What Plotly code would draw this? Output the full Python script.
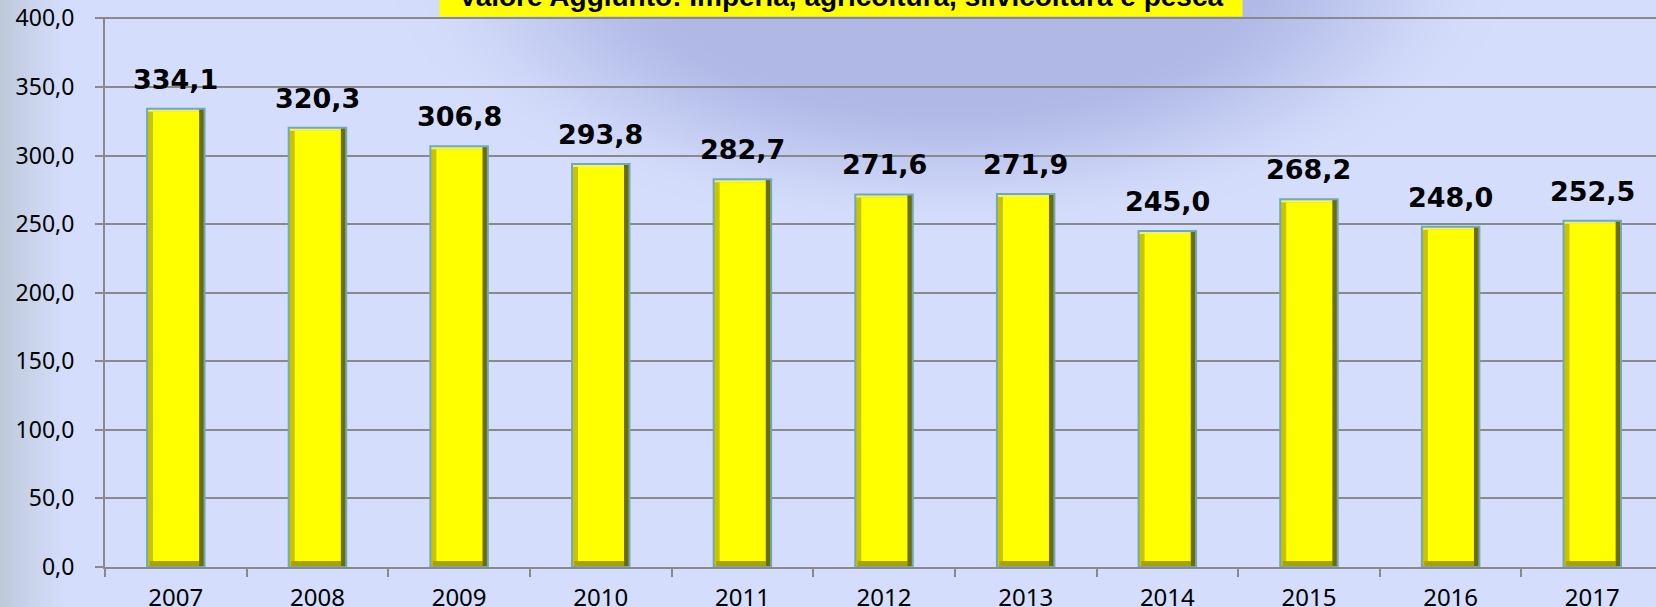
import base64
import struct
import zlib

import numpy as np
import plotly.graph_objects as go

# ---------------- data ----------------
years = ["2007", "2008", "2009", "2010", "2011", "2012", "2013", "2014", "2015", "2016", "2017"]
values = [334.1, 320.3, 306.8, 293.8, 282.7, 271.6, 271.9, 245.0, 268.2, 248.0, 252.5]
y_ticks = [0, 50, 100, 150, 200, 250, 300, 350, 400]
title_text = "Valore Aggiunto: Imperia, agricoltura, silvicoltura e pesca"

# ---------------- geometry / style ----------------
FIG_W, FIG_H = 1656, 607
M_L, M_R, M_T, M_B = 105, 0, 17, 40
PLOT_W = FIG_W - M_L - M_R
PLOT_H = FIG_H - M_T - M_B
X_RANGE = [-0.5, 10.45]
Y_RANGE = [0, 401]
CAT_PX = PLOT_W / (X_RANGE[1] - X_RANGE[0])
UNIT_PX = PLOT_H / (Y_RANGE[1] - Y_RANGE[0])

BAR_W = 57.5 / CAT_PX
LB = 6.0 / CAT_PX      # left bevel
RB = 5.5 / CAT_PX      # right bevel
BB = 6.0 / UNIT_PX     # bottom bevel
TB = 3.0 / UNIT_PX     # top bevel

BASE = (212, 221, 251)
GLOW = (176, 185, 230)
LEFT = (190, 202, 218)


def background_png():
    s = 2
    w, h = FIG_W // s, FIG_H // s + 1
    xs = (np.arange(w) + 0.5) * s
    ys = (np.arange(h) + 0.5) * s
    X, Y = np.meshgrid(xs, ys)
    img = np.zeros((h, w, 3), dtype=float)
    for c in range(3):
        img[..., c] = BASE[c]
    d = np.sqrt(((X - 950) / 560.0) ** 2 + ((Y + 40) / 270.0) ** 2)
    t = np.clip((1.0 - d) / 0.5, 0, 1)
    t = t * t * (3 - 2 * t)
    for c in range(3):
        img[..., c] = img[..., c] * (1 - t) + GLOW[c] * t
    lt = np.clip(1 - X / 65.0, 0, 1) ** 1.2
    for c in range(3):
        img[..., c] = img[..., c] * (1 - lt) + LEFT[c] * lt
    arr = np.clip(img, 0, 255).astype(np.uint8)
    raw = b"".join(b"\x00" + arr[i].tobytes() for i in range(h))

    def chunk(tag, data):
        return (struct.pack(">I", len(data)) + tag + data
                + struct.pack(">I", zlib.crc32(tag + data) & 0xFFFFFFFF))

    png = (b"\x89PNG\r\n\x1a\n"
           + chunk(b"IHDR", struct.pack(">IIBBBBB", w, h, 8, 2, 0, 0, 0))
           + chunk(b"IDAT", zlib.compress(raw, 9))
           + chunk(b"IEND", b""))
    return "data:image/png;base64," + base64.b64encode(png).decode()


vals = np.array(values)
n = len(vals)
fig = go.Figure()

common = dict(x=years, hoverinfo="skip", showlegend=False)

# dark right bevel (full bar)
fig.add_trace(go.Bar(y=vals, width=BAR_W, offset=-BAR_W / 2,
                     marker=dict(color="#6e6e00", line=dict(width=0)), **common))
# left bevel
fig.add_trace(go.Bar(y=vals, width=BAR_W - RB, offset=-BAR_W / 2,
                     marker=dict(color="#c9c300", line=dict(width=0)), **common))
# bottom bevel
fig.add_trace(go.Bar(y=np.full(n, BB), base=0, width=BAR_W - LB - RB + LB * 0.6,
                     offset=-BAR_W / 2 + LB * 0.4,
                     marker=dict(color="#aaa200", line=dict(width=0)), **common))
# top bevel
fig.add_trace(go.Bar(y=np.full(n, TB), base=vals - TB, width=BAR_W - RB, offset=-BAR_W / 2,
                     marker=dict(color="#f2f270", line=dict(width=0)), **common))
# inner face
fig.add_trace(go.Bar(y=vals - BB - TB, base=np.full(n, BB),
                     width=BAR_W - LB - RB, offset=-BAR_W / 2 + LB,
                     marker=dict(color="#ffff00", line=dict(width=0)), **common))
# outline
fig.add_trace(go.Bar(y=vals, width=BAR_W, offset=-BAR_W / 2,
                     marker=dict(color="rgba(0,0,0,0)", line=dict(width=2, color="#6fa9bb")), **common))

annotations = []
for i, v in enumerate(values):
    annotations.append(dict(
        x=i, y=v, xref="x", yref="y", text="<b>" + f"{v:.1f}".replace(".", ",") + "</b>",
        showarrow=False, yanchor="bottom", xanchor="center", yshift=12,
        font=dict(family="DejaVu Sans", size=27, color="#000000"),
    ))

annotations.append(dict(
    x=(840.5 - M_L) / PLOT_W, y=1, xref="paper", yref="paper", xanchor="center", yanchor="bottom",
    text=f"<b>{title_text}</b>", showarrow=False, width=802, height=39, bgcolor="#ffff00",
    borderpad=0, align="center", valign="middle",
    font=dict(family="Liberation Sans, Arial", size=28, color="#000000"),
))

fig.update_layout(
    width=FIG_W, height=FIG_H, autosize=False,
    margin=dict(l=M_L, r=M_R, t=M_T, b=M_B, pad=0, autoexpand=False),
    paper_bgcolor="rgb(%d,%d,%d)" % BASE,
    plot_bgcolor="rgba(0,0,0,0)",
    barmode="overlay",
    separators=",.",
    font=dict(family="Noto Sans", size=24, color="#000000"),
    annotations=annotations,
    images=[dict(
        source=background_png(), xref="paper", yref="paper",
        x=-M_L / PLOT_W, y=1 + M_T / PLOT_H, sizex=FIG_W / PLOT_W, sizey=FIG_H / PLOT_H,
        xanchor="left", yanchor="top", sizing="stretch", layer="below",
    )],
    xaxis=dict(
        type="category", range=X_RANGE, tickson="boundaries", automargin=False,
        ticks="outside", ticklen=8, tickwidth=2, tickcolor="#8a8a8a",
        showline=True, linecolor="#8a8a8a", linewidth=2,
        showgrid=False, zeroline=False, ticklabelstandoff=8,
        tickfont=dict(family="Noto Sans", size=24, color="#000000"),
    ),
    yaxis=dict(
        range=Y_RANGE, tickvals=y_ticks, tickformat=".1f", automargin=False,
        ticks="outside", ticklen=8, tickwidth=2, tickcolor="#8a8a8a",
        showline=True, linecolor="#8a8a8a", linewidth=2,
        showgrid=True, gridcolor="#8a8a8a", gridwidth=2, zeroline=False,
        ticklabelstandoff=16,
        tickfont=dict(family="Noto Sans", size=23, color="#000000"),
    ),
)

fig.write_html(
    "out.html",
    config={"displayModeBar": False},
    post_script="document.body.style.margin='0';document.body.style.overflow='hidden';",
)
